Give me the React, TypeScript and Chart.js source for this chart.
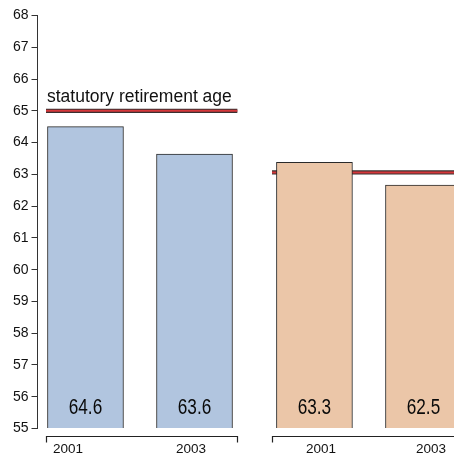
import React, { useEffect, useRef } from "react";
import { Chart, registerables } from "chart.js";

Chart.register(...registerables);

// ---- data ----
const barPositions = [0, 1, 2.1, 3.1];
const barValues = [64.5, 63.64, 63.38, 62.66];
const barLabels = ["64.6", "63.6", "63.3", "62.5"];
const barColors = ["#b1c5df", "#b1c5df", "#ebc6a8", "#ebc6a8"];
const yearLabels = ["2001", "2003", "2001", "2003"];
const yearTickPositions = [-0.16, 0.968, 2.16, 3.17];
const groupSpans = [
  [-0.362, 1.393],
  [1.711, 3.47],
];
const retirementAges = [65, 63.06];
const refLabel = "statutory retirement age";
const yMin = 55;
const yMax = 68;
const xMin = -0.44;
const xMax = 3.38;

const SANS = "'Liberation Sans', Arial, Helvetica, sans-serif";

const overlayPlugin = {
  id: "overlay",
  afterDatasetsDraw(chart: any) {
    const { ctx, chartArea, scales } = chart;
    const x = scales.x;
    const y = scales.y;
    ctx.save();
    // value labels inside bars (narrowed Helvetica look)
    ctx.fillStyle = "#0a0a0a";
    ctx.font = `21.5px ${SANS}`;
    ctx.textAlign = "center";
    ctx.textBaseline = "alphabetic";
    const sx = 0.8;
    barPositions.forEach((p, i) => {
      ctx.save();
      ctx.translate(x.getPixelForValue(p), chartArea.bottom - 15);
      ctx.scale(sx, 1);
      ctx.fillText(barLabels[i], 0, 0);
      ctx.restore();
    });
    // reference label
    ctx.font = `17.5px ${SANS}`;
    ctx.textAlign = "left";
    ctx.fillStyle = "#111";
    ctx.fillText(refLabel, x.getPixelForValue(groupSpans[0][0]) + 1, y.getPixelForValue(retirementAges[0]) - 9);
    // group brackets
    ctx.strokeStyle = "#222";
    ctx.lineWidth = 1.2;
    const by = chartArea.bottom + 8;
    groupSpans.forEach(([a, b]) => {
      const xa = Math.round(x.getPixelForValue(a)) + 0.5;
      const xb = Math.round(x.getPixelForValue(b)) + 0.5;
      ctx.beginPath();
      ctx.moveTo(xa, by + 6);
      ctx.lineTo(xa, by);
      ctx.lineTo(xb, by);
      ctx.lineTo(xb, by + 6);
      ctx.stroke();
    });
    ctx.restore();
  },
};

export default function App() {
  const ref = useRef<HTMLCanvasElement | null>(null);
  useEffect(() => {
    if (!ref.current) return;
    const lineData = (i: number) => [
      { x: groupSpans[i][0], y: retirementAges[i] },
      { x: groupSpans[i][1], y: retirementAges[i] },
    ];
    const chart = new Chart(ref.current, {
      type: "bar",
      data: {
        datasets: [
          {
            type: "bar",
            data: barPositions.map((p, i) => ({ x: p, y: barValues[i] })),
            backgroundColor: barColors,
            borderColor: "#2a2a2a",
            borderWidth: 1,
            barThickness: 76,
            base: yMin,
          } as any,
          {
            type: "line",
            data: lineData(0),
            borderColor: "#d6373a",
            borderWidth: 2,
            pointRadius: 0,
          },
          {
            type: "line",
            data: lineData(1),
            borderColor: "#d6373a",
            borderWidth: 2,
            pointRadius: 0,
          },
          {
            type: "line",
            data: lineData(0),
            borderColor: "#3a3030",
            borderWidth: 4.2,
            pointRadius: 0,
          },
          {
            type: "line",
            data: lineData(1),
            borderColor: "#3a3030",
            borderWidth: 4.2,
            pointRadius: 0,
          },
        ],
      },
      options: {
        animation: false,
        responsive: true,
        maintainAspectRatio: false,
        layout: { padding: { top: 15.5, left: 0, right: 0, bottom: 0 } },
        plugins: { legend: { display: false }, tooltip: { enabled: false } },
        scales: {
          x: {
            type: "linear",
            min: xMin,
            max: xMax,
            offset: false,
            grid: { display: false, drawTicks: false, offset: false },
            border: { display: false },
            afterBuildTicks: (scale: any) => {
              scale.ticks = yearTickPositions.map((v) => ({ value: v }));
            },
            afterFit: (scale: any) => {
              scale.height = 24.5;
              scale.paddingLeft = 0;
              scale.paddingRight = 0;
            },
            ticks: {
              autoSkip: false,
              maxRotation: 0,
              padding: 12.5,
              color: "#111",
              font: { family: SANS, size: 13.5 },
              callback: (_v: any, i: number) => yearLabels[i],
            },
          } as any,
          y: {
            min: yMin,
            max: yMax,
            grid: { display: true, drawOnChartArea: false, drawTicks: true, tickLength: 6, color: "#333" },
            border: { display: true, color: "#333", width: 1 },
            afterFit: (scale: any) => {
              scale.width = 37.5;
            },
            ticks: {
              stepSize: 1,
              padding: 3,
              color: "#111",
              font: { family: SANS, size: 14 },
            },
          },
        },
      },
      plugins: [overlayPlugin],
    });
    return () => chart.destroy();
  }, []);
  return (
    <div style={{ position: "fixed", left: 0, top: 0, width: 454, height: 453, background: "#fff" }}>
      <canvas ref={ref} />
    </div>
  );
}
